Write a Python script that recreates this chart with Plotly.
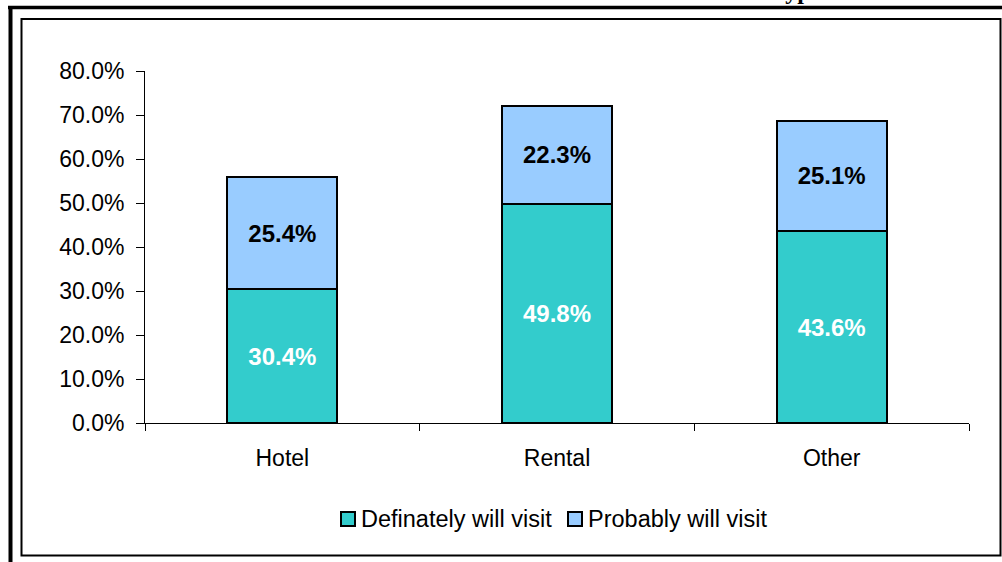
import plotly.graph_objects as go

# Survey results by accommodation type
categories = ["Hotel", "Rental", "Other"]
definitely = [30.4, 49.8, 43.6]
probably = [25.4, 22.3, 25.1]
series_names = ["Definately will visit", "Probably will visit"]
series_colors = ["#33CCCC", "#99CCFF"]
y_ticks = [0, 10, 20, 30, 40, 50, 60, 70, 80]
y_tick_labels = [f"{v:.1f}%" for v in y_ticks]

W, H = 1002, 562
L, R, T, B = 145, 33, 71, 139
PW, PH = W - L - R, H - T - B

FONT = "Arial, Liberation Sans, sans-serif"
TICK_SIZE = 23
LEGEND_SIZE = 23.5
LABEL_SIZE = 24


def px_x(px):
    return (px - L) / PW


def px_y(py):
    return (H - B - py) / PH


fig = go.Figure()
for name, color, values, txt_color in [
    (series_names[0], series_colors[0], definitely, "white"),
    (series_names[1], series_colors[1], probably, "black"),
]:
    fig.add_trace(go.Bar(
        name=name,
        x=categories, y=values,
        marker=dict(color=color, line=dict(color="black", width=2)),
        text=[f"{v:.1f}%" for v in values],
        textposition="inside", insidetextanchor="middle",
        textfont=dict(family=FONT, size=LABEL_SIZE, color=txt_color, weight="bold"),
        constraintext="none",
        showlegend=False,
    ))

shapes = [
    # heavy frame lines along the top and left
    dict(type="line", xref="paper", yref="paper",
         x0=px_x(8), x1=px_x(W + 2), y0=px_y(7.5), y1=px_y(7.5),
         line=dict(color="black", width=3.5)),
    dict(type="line", xref="paper", yref="paper",
         x0=px_x(10.5), x1=px_x(10.5), y0=px_y(6), y1=px_y(H + 2),
         line=dict(color="black", width=4)),
    # chart area border
    dict(type="rect", xref="paper", yref="paper",
         x0=px_x(21.5), x1=px_x(1000.5), y0=px_y(19), y1=px_y(555.5),
         line=dict(color="black", width=2)),
]

annotations = [
    dict(text="<b>Type</b>", xref="paper", yref="paper",
         x=px_x(769), y=px_y(6), xanchor="left", yanchor="bottom",
         showarrow=False,
         font=dict(family="Times New Roman, Liberation Serif, serif", size=24, color="black")),
]

# legend: swatch + label pairs along the bottom
legend_y = 519
for (sx, tx), name, color in zip([(341, 359), (568, 586)], series_names, series_colors):
    shapes.append(dict(type="rect", xref="paper", yref="paper",
                       x0=px_x(sx), x1=px_x(sx + 14),
                       y0=px_y(legend_y - 7), y1=px_y(legend_y + 7),
                       fillcolor=color, line=dict(color="black", width=2)))
    annotations.append(dict(text=name, xref="paper", yref="paper",
                            x=px_x(tx), y=px_y(legend_y),
                            xanchor="left", yanchor="middle", showarrow=False,
                            font=dict(family=FONT, size=LEGEND_SIZE, color="black")))

fig.update_layout(
    width=W, height=H,
    margin=dict(l=L, r=R, t=T, b=B, pad=0),
    paper_bgcolor="white", plot_bgcolor="white",
    barmode="stack", bargap=0.6,
    font=dict(family=FONT, size=TICK_SIZE, color="black"),
    showlegend=False,
    shapes=shapes,
    annotations=annotations,
)
fig.update_xaxes(
    showline=True, linecolor="black", linewidth=1,
    ticks="outside", tickson="boundaries", ticklen=7, tickcolor="black",
    showgrid=False, ticklabelstandoff=14,
    tickfont=dict(family=FONT, size=TICK_SIZE, color="black"),
)
fig.update_yaxes(
    range=[0, 80], tickvals=y_ticks, ticktext=y_tick_labels,
    showline=True, linecolor="black", linewidth=1,
    ticks="outside", ticklen=8, tickcolor="black",
    showgrid=False, zeroline=False, ticklabelstandoff=7,
    tickfont=dict(family=FONT, size=TICK_SIZE, color="black"),
)

fig.write_html("out.html")
